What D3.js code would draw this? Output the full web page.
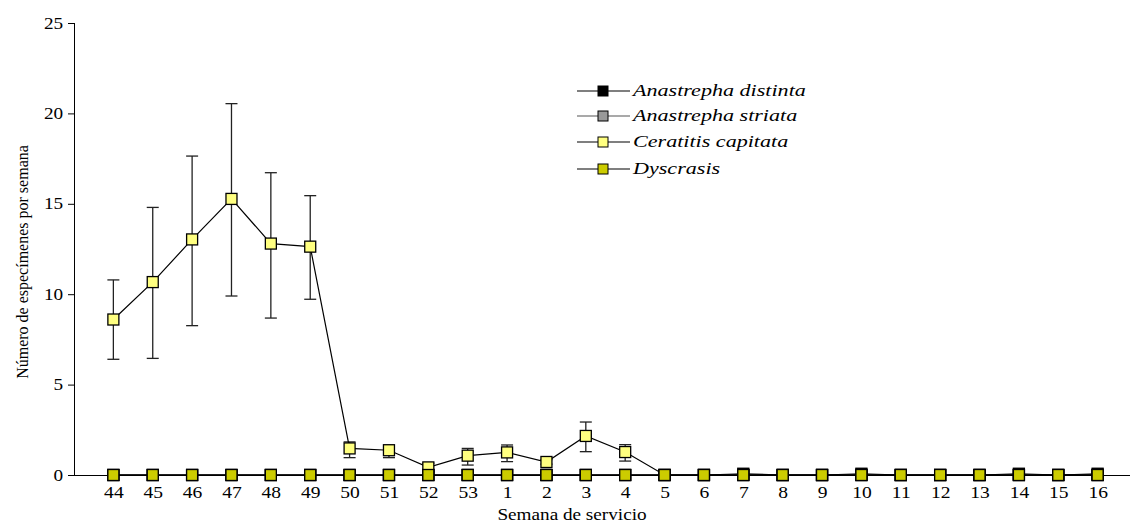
<!DOCTYPE html>
<html><head><meta charset="utf-8">
<script src="https://cdn.jsdelivr.net/npm/d3@7"></script>
<style>body{margin:0;background:#fff}svg{display:block}</style>
</head><body>
<svg id="c" width="1130" height="523"></svg>
<script>
const weeks = ["44","45","46","47","48","49","50","51","52","53","1","2","3","4","5","6","7","8","9","10","11","12","13","14","15","16"];
const distinta = [0,0,0,0,0,0,0,0,0,0,0,0,0,0,0,0,0.07,0,0,0.07,0,0,0,0.07,0,0.07];
const striata = [0,0,0,0,0,0,0,0,0,0,0,0,0,0,0,0,0,0,0,0,0,0,0,0,0,0];
const ceratitis = [8.6,10.67,13.03,15.27,12.8,12.63,1.47,1.37,0.42,1.07,1.25,0.72,2.16,1.27,0,0,0,0,0,0,0,0,0,0,0,0];
const cerLow = [6.4,6.45,8.26,9.9,8.68,9.72,0.96,0.96,0.2,0.55,0.74,0.6,1.29,0.77,0,0,0,0,0,0,0,0,0,0,0,0];
const cerHigh = [10.79,14.8,17.64,20.54,16.72,15.45,1.83,1.5,0.65,1.47,1.66,0.85,2.93,1.68,0,0,0,0,0,0,0,0,0,0,0,0];
const dyscrasis = [0,0,0,0,0,0,0,0,0,0,0,0,0,0,0,0,0,0,0,0,0,0,0,0,0,0];
const yTicks = [0,5,10,15,20,25];
const seriesNames = ["Anastrepha distinta","Anastrepha striata","Ceratitis capitata","Dyscrasis"];
const seriesColors = ["#000000","#999999","#FFFF80","#CCCC00"];

const FONT = "'Liberation Serif', 'Times New Roman', Times, serif";
const svg = d3.select("#c").attr("font-family", FONT);
const x0 = 74, x1 = 1137, y0 = 475, y1 = 23;
const x = d3.scalePoint().domain(weeks).range([x0, x1]).padding(1);
const y = d3.scaleLinear().domain([0,25]).range([y0, y1]);

// Y axis
const ya = svg.append("g").attr("transform",`translate(${x0},0)`)
  .call(d3.axisLeft(y).tickValues(yTicks).tickSize(6).tickPadding(3));
ya.attr("font-family", FONT).attr("font-size", 16);
ya.select(".domain").attr("stroke","#000").attr("d",`M0.5,${y0}V${y1}`);
ya.selectAll("line").attr("stroke","#000");
ya.selectAll("text").attr("fill","#000").attr("transform","scale(1.2,1)");

// X axis
const xa = svg.append("g").attr("transform",`translate(0,${y0})`)
  .call(d3.axisBottom(x).tickSize(3).tickPadding(8));
xa.attr("font-family", FONT).attr("font-size", 17);
xa.select(".domain").attr("d",`M${x0},0.5H1130`).attr("stroke","#000");
xa.selectAll("line").attr("stroke","#000");
xa.selectAll("text").attr("fill","#000").attr("transform","scale(1.15,1)");

// titles
svg.append("text").attr("transform","translate(572,520) scale(1.2,1)").attr("text-anchor","middle").attr("font-size",16).attr("font-family",FONT).text("Semana de servicio");
svg.append("text").attr("transform","translate(28,262) rotate(-90)").attr("text-anchor","middle").attr("font-size",16).attr("font-family",FONT).text("Número de especímenes por semana");

const line = d3.line().x((d,i)=>x(weeks[i])).y(d=>y(d));
const sq = 11;
function drawSeries(vals, color){
  svg.append("path").datum(vals).attr("d",line).attr("fill","none").attr("stroke","#000").attr("stroke-width",1.2);
  svg.append("g").selectAll("rect").data(vals).join("rect")
    .attr("x",(d,i)=>x(weeks[i])-sq/2).attr("y",d=>y(d)-sq/2)
    .attr("width",sq).attr("height",sq).attr("fill",color).attr("stroke","#000").attr("stroke-width",1.3);
}

// error bars for Ceratitis
const eb = svg.append("g").attr("stroke","#222").attr("stroke-width",1.3);
weeks.forEach((w,i)=>{
  if (cerHigh[i] - cerLow[i] <= 0) return;
  const cx = x(w);
  eb.append("line").attr("x1",cx).attr("x2",cx).attr("y1",y(cerLow[i])).attr("y2",y(cerHigh[i]));
  eb.append("line").attr("x1",cx-6).attr("x2",cx+6).attr("y1",y(cerLow[i])).attr("y2",y(cerLow[i]));
  eb.append("line").attr("x1",cx-6).attr("x2",cx+6).attr("y1",y(cerHigh[i])).attr("y2",y(cerHigh[i]));
});

drawSeries(distinta, seriesColors[0]);
drawSeries(striata, seriesColors[1]);
drawSeries(ceratitis, seriesColors[2]);
drawSeries(dyscrasis, seriesColors[3]);

// legend
const lg = svg.append("g");
const rows = [91,116,142,169];
seriesNames.forEach((n,i)=>{
  const ry = rows[i];
  lg.append("line").attr("x1",577).attr("x2",630).attr("y1",ry).attr("y2",ry).attr("stroke",i===1?"#555":"#000").attr("stroke-width",1.2);
  lg.append("rect").attr("x",598).attr("y",ry-5).attr("width",10).attr("height",10).attr("fill",seriesColors[i]).attr("stroke","#000").attr("stroke-width",1);
  lg.append("text").attr("transform",`translate(633,${ry+5}) scale(1.3,1)`).attr("font-size",17).attr("font-style","italic").attr("font-family",FONT).text(n);
});
</script>
</body></html>
